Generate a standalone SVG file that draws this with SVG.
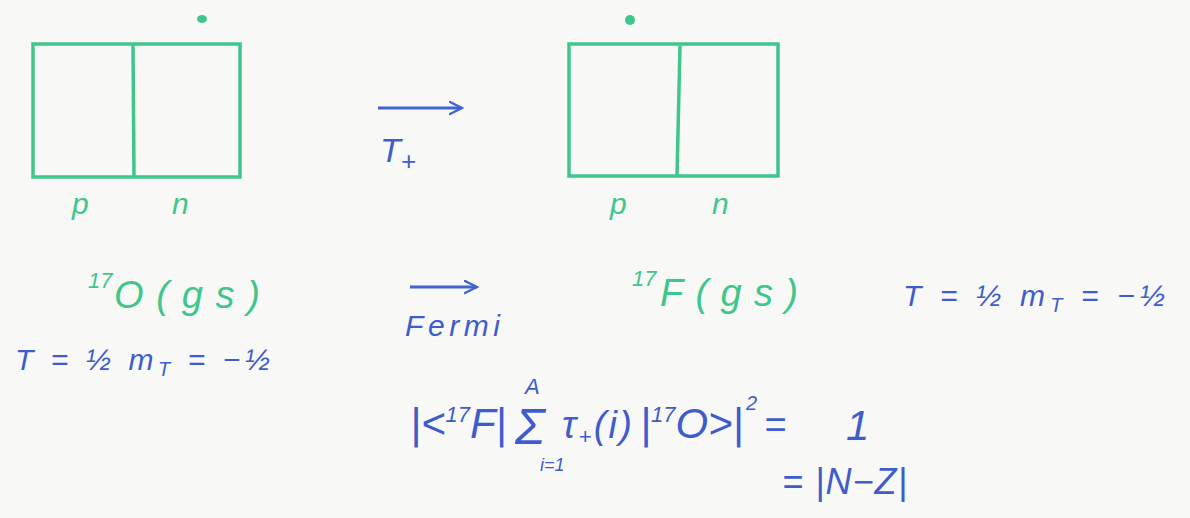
<svg xmlns="http://www.w3.org/2000/svg" width="1190" height="518" viewBox="0 0 1190 518">
<defs>
<marker id="chev" viewBox="0 0 10 10" refX="9" refY="5" markerWidth="5" markerHeight="5" orient="auto" markerUnits="strokeWidth">
<path d="M1,1 L9,5 L1,9" fill="none" stroke="#3f63d0" stroke-width="1.6" stroke-linecap="round"/>
</marker>
<style>
.box{fill:none;stroke:#3fc68c;stroke-width:3.5;}
.g{fill:#3fc68c;font-family:"Liberation Sans",sans-serif;font-style:italic;}
.b{fill:#3f5ccc;font-family:"Liberation Sans",sans-serif;font-style:italic;}
.arr{fill:none;stroke:#3f63d0;stroke-width:3;marker-end:url(#chev);}
</style>
</defs>
<rect width="1190" height="518" fill="#f8f8f6"/>
<g id="box-left">
<rect class="box" x="33" y="44" width="207" height="133"/>
<line class="box" x1="133" y1="44" x2="134" y2="177"/>
<ellipse cx="202" cy="19" rx="5" ry="4" fill="#3fc68c"/>
<text class="g" x="72" y="214" font-size="30">p</text>
<text class="g" x="172" y="214" font-size="30">n</text>
</g>
<g id="box-right">
<rect class="box" x="569" y="44" width="209" height="132"/>
<line class="box" x1="680" y1="46" x2="677" y2="176"/>
<ellipse cx="630" cy="20" rx="5" ry="5" fill="#3fc68c"/>
<text class="g" x="610" y="214" font-size="30">p</text>
<text class="g" x="712" y="214" font-size="30">n</text>
</g>
<g id="connectors">
<line class="arr" x1="378" y1="108" x2="462" y2="108"/>
<line class="arr" x1="410" y1="287" x2="477" y2="287"/>
</g>
<g id="label-tplus">
<text class="b" x="380" y="162" font-size="34">T<tspan font-size="26" dy="8">+</tspan></text>
</g>
<g id="label-fermi">
<text class="b" x="405" y="336" font-size="30" textLength="95" lengthAdjust="spacing">Fermi</text>
</g>
<g id="o17">
<text class="g" x="88" y="288" font-size="22">17</text>
<text class="g" x="114" y="308" font-size="38" textLength="146" lengthAdjust="spacing">O(gs)</text>
<text class="b" x="15" y="370" font-size="30" textLength="255" lengthAdjust="spacing">T = ½  m<tspan font-size="20" dy="6">T</tspan><tspan dy="-6"> = −½</tspan></text>
</g>
<g id="f17">
<text class="g" x="632" y="286" font-size="22">17</text>
<text class="g" x="660" y="306" font-size="38" textLength="138" lengthAdjust="spacing">F(gs)</text>
<text class="b" x="903" y="306" font-size="30" textLength="262" lengthAdjust="spacing">T = ½  m<tspan font-size="20" dy="6">T</tspan><tspan dy="-6"> = −½</tspan></text>
</g>
<g id="matrix-element">
<text class="b" x="410" y="438" font-size="42">|&lt;<tspan font-size="22" dy="-16">17</tspan><tspan dy="16">F|</tspan></text>
<text class="b" x="515" y="444" font-size="50" font-style="normal">Σ</text>
<text class="b" x="525" y="394" font-size="22">A</text>
<text class="b" x="540" y="471" font-size="18">i=1</text>
<text class="b" x="562" y="438" font-size="38" textLength="70" lengthAdjust="spacing">τ<tspan font-size="22" dy="6">+</tspan><tspan dy="-6">(i)</tspan></text>
<text class="b" x="640" y="438" font-size="42">|<tspan font-size="22" dy="-16">17</tspan><tspan dy="16">O&gt;|</tspan></text>
<text class="b" x="746" y="410" font-size="20">2</text>
<text class="b" x="764" y="438" font-size="38">=</text>
<text class="b" x="846" y="440" font-size="42">1</text>
<text class="b" x="782" y="494" font-size="36" textLength="125" lengthAdjust="spacing">= |N−Z|</text>
</g>
</svg>
